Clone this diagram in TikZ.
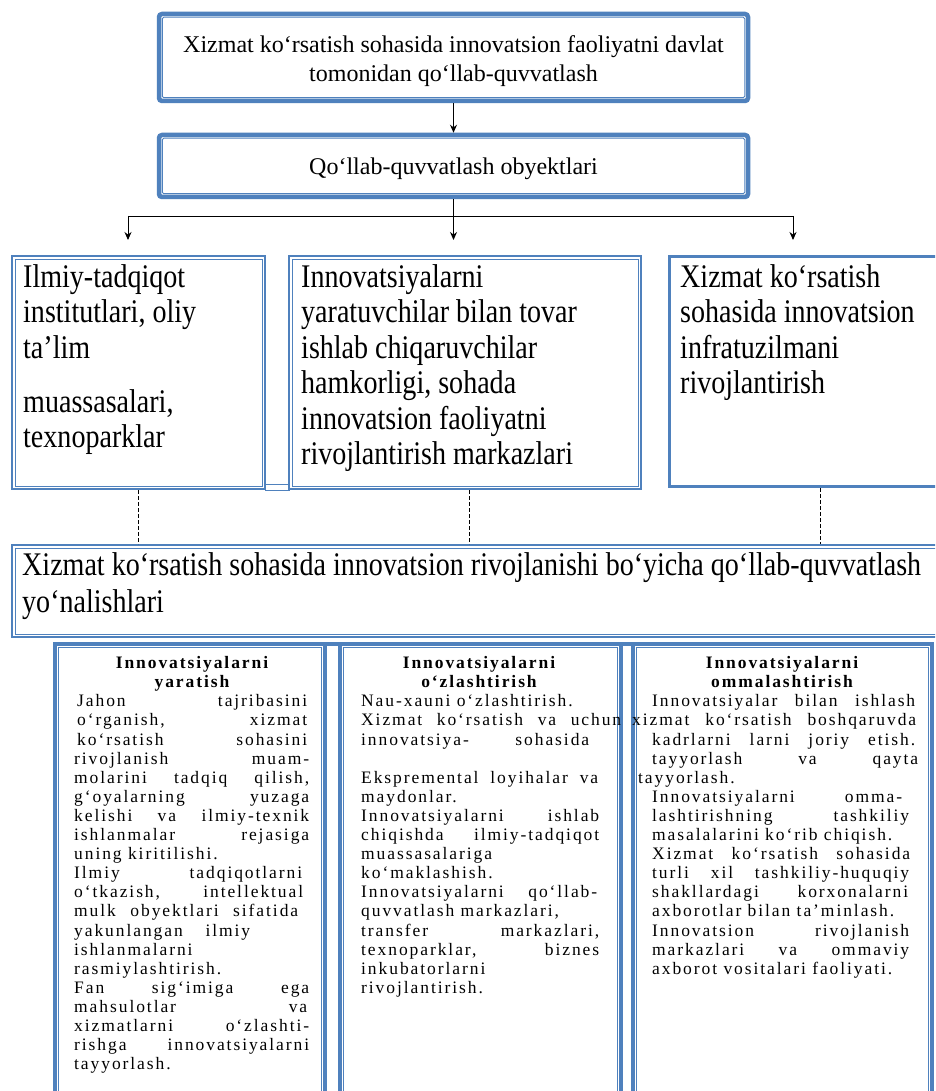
\documentclass[tikz,border=0pt]{standalone}
\usepackage{fontspec}
\usetikzlibrary{arrows.meta}
\setmainfont{Liberation Serif}
\newfontfamily\condfont[FakeStretch=0.85]{Liberation Serif}
\newfontfamily\bodyfont[LetterSpace=11]{Liberation Serif}
\definecolor{wb}{HTML}{4F81BD}
\tikzset{
 topframe/.style={draw=wb, line width=4.5pt, rounded corners=3pt, inner sep=0pt},
 midframe/.style={draw=wb, line width=2pt, inner sep=0pt},
 lowframe/.style={draw=wb, line width=4pt, inner sep=0pt},
 thinframe/.style={draw=wb, line width=1pt},
 arr/.style={draw=black, line width=0.9pt, -{Stealth[length=8pt,width=7pt]}},
 plainc/.style={draw=black, line width=0.9pt},
 dashc/.style={draw=black, line width=0.7pt, dash pattern=on 4pt off 2pt},
 toptext/.style={font=\fontsize{24}{28}\selectfont, inner sep=0pt, anchor=mid},
 bigtext/.style={font=\condfont\fontsize{33}{36}\selectfont, inner sep=0pt, anchor=mid west},
 bodyt/.style={font=\bodyfont\fontsize{17.5}{19}\selectfont, inner sep=0pt, anchor=mid west},
 titlet/.style={font=\bodyfont\bfseries\fontsize{17.5}{19}\selectfont, inner sep=0pt, anchor=mid},
}
\newcommand\bjust[5]{\node[bodyt] (#1) at (#2,{704.5+(#3-1)*19.1}) {\makebox[#4pt][s]{#5}};}
\newcommand\bleft[4]{\node[bodyt] (#1) at (#2,{704.5+(#3-1)*19.1}) {#4};}
\newcommand\inframe[2]{\draw[thinframe] ([xshift=#2pt,yshift=-#2pt]#1.north west) rectangle ([xshift=-#2pt,yshift=#2pt]#1.south east);}
\begin{document}
\begin{tikzpicture}[x=1pt,y=-1pt]
\useasboundingbox (0,0) rectangle (935,1091);
\fill[white] (0,0) rectangle (935,1091);
\clip (0,0) rectangle (935,1091);

% top boxes
\node[topframe, minimum width=589pt, minimum height=87pt] (t1) at (453.5,57.5) {};
\draw[thinframe, rounded corners=1.5pt] ([xshift=5.5pt,yshift=-5.5pt]t1.north west) rectangle ([xshift=-5.5pt,yshift=5.5pt]t1.south east);
\node[toptext] (t1a) at (453.5,50) {Xizmat ko‘rsatish sohasida innovatsion faoliyatni davlat};
\node[toptext] (t1b) at (453.5,79) {tomonidan qo‘llab-quvvatlash};

\node[topframe, minimum width=589pt, minimum height=62pt] (t2) at (453.5,166) {};
\draw[thinframe, rounded corners=1.5pt] ([xshift=5.5pt,yshift=-5.5pt]t2.north west) rectangle ([xshift=-5.5pt,yshift=5.5pt]t2.south east);
\node[toptext] (t2a) at (453.5,172) {Qo‘llab-quvvatlash obyektlari};

% arrows
\coordinate (jl) at (128,216);
\coordinate (jr) at (793,216);
\coordinate (al) at (128,240);
\coordinate (am) at (453.5,240);
\coordinate (ar) at (793,240);
\draw[arr] (t1.south) -- (t2.north);
\draw[arr] (t2.south) -- (am);
\draw[plainc] (jl) -- (jr);
\draw[arr] (jl) -- (al);
\draw[arr] (jr) -- (ar);

% middle boxes
\node[midframe, minimum width=253pt, minimum height=233pt] (m1) at (138.5,372.5) {};
\inframe{m1}{4}
\node[midframe, minimum width=352pt, minimum height=233pt] (m2) at (465,372.5) {};
\inframe{m2}{4}
\node[draw=wb, line width=1.5pt, inner sep=0pt, minimum width=276pt, minimum height=231pt] (m3) at (807,371.5) {};
\draw[wb, line width=0.8pt] ([xshift=2.5pt,yshift=-2.5pt]m3.north west) rectangle ([xshift=-2.5pt,yshift=2.5pt]m3.south east);
\draw[wb, line width=0.8pt] (265,484.5) rectangle (289,490.5);

\node[bigtext] (m1a) at (23,285) {Ilmiy-tadqiqot};
\node[bigtext] (m1b) at (23,320.5) {institutlari, oliy};
\node[bigtext] (m1c) at (23,356) {ta’lim};
\node[bigtext] (m1d) at (23,410) {muassasalari,};
\node[bigtext] (m1e) at (23,445) {texnoparklar};

\node[bigtext] (m2a) at (301,285) {Innovatsiyalarni};
\node[bigtext] (m2b) at (301,320.5) {yaratuvchilar bilan tovar};
\node[bigtext] (m2c) at (301,356) {ishlab chiqaruvchilar};
\node[bigtext] (m2d) at (301,391.5) {hamkorligi, sohada};
\node[bigtext] (m2e) at (301,427) {innovatsion faoliyatni};
\node[bigtext] (m2f) at (301,462.5) {rivojlantirish markazlari};

\node[bigtext] (m3a) at (680,285) {Xizmat ko‘rsatish};
\node[bigtext] (m3b) at (680,320.5) {sohasida innovatsion};
\node[bigtext] (m3c) at (680,356) {infratuzilmani};
\node[bigtext] (m3d) at (680,391.5) {rivojlantirish};

% large box
\node[midframe, minimum width=933pt, minimum height=92pt] (L) at (478.5,591) {};
\inframe{L}{4}
\node[bigtext] (La) at (22,573) {Xizmat ko‘rsatish sohasida innovatsion rivojlanishi bo‘yicha qo‘llab-quvvatlash};
\node[bigtext] (Lb) at (22,610) {yo‘nalishlari};

% dashed connectors
\draw[dashc] (m1.south) -- (m1.south |- L.north);
\draw[dashc] ([xshift=4pt]m2.south) -- ([xshift=4pt]m2.south |- L.north);
\draw[dashc] ([xshift=13pt]m3.south) -- ([xshift=13pt]m3.south |- L.north);

% bottom boxes
\node[lowframe, minimum width=270pt, minimum height=466.5pt] (A) at (190,876.75) {};
\inframe{A}{5.5}
\node[lowframe, minimum width=281pt, minimum height=466.5pt] (B) at (480.5,876.75) {};
\inframe{B}{5.5}
\node[lowframe, minimum width=299.5pt, minimum height=466.5pt] (C) at (782.25,876.75) {};
\inframe{C}{5.5}
\draw[wb, line width=4pt] ([yshift=-2pt]A.north west) -- ([yshift=-2pt]C.north east);

\node[titlet] (at1) at (192,666) {Innovatsiyalarni};
\node[titlet] (at2) at (192,685) {yaratish};
\node[titlet] (bt1) at (479,666) {Innovatsiyalarni};
\node[titlet] (bt2) at (479,685) {o‘zlashtirish};
\node[titlet] (ct1) at (782,666) {Innovatsiyalarni};
\node[titlet] (ct2) at (782,685) {ommalashtirish};

\bjust{a1}{77}{1}{230}{Jahon tajribasini}
\bjust{a2}{77}{2}{230}{o‘rganish, xizmat}
\bjust{a3}{77}{3}{230}{ko‘rsatish sohasini}
\bjust{a4}{74}{4}{235}{rivojlanish muam-}
\bjust{a5}{74}{5}{235}{molarini tadqiq qilish,}
\bjust{a6}{74}{6}{235}{g‘oyalarning yuzaga}
\bjust{a7}{74}{7}{235}{kelishi va ilmiy-texnik}
\bjust{a8}{74}{8}{235}{ishlanmalar rejasiga}
\bleft{a9}{74}{9}{uning kiritilishi.}
\bjust{a10}{74}{10}{228}{Ilmiy tadqiqotlarni}
\bjust{a11}{74}{11}{229}{o‘tkazish, intellektual}
\bjust{a12}{74}{12}{224}{mulk obyektlari sifatida}
\bjust{a13}{74}{13}{176}{yakunlangan ilmiy}
\bleft{a14}{74}{14}{ishlanmalarni}
\bleft{a15}{74}{15}{rasmiylashtirish.}
\bjust{a16}{74}{16}{235}{Fan sig‘imiga ega}
\bjust{a17}{74}{17}{233}{mahsulotlar va}
\bjust{a18}{74}{18}{235}{xizmatlarni o‘zlashti-}
\bjust{a19}{74}{19}{235}{rishga innovatsiyalarni}
\bleft{a20}{74}{20}{tayyorlash.}

\bleft{b1}{361}{1}{Nau-xauni o‘zlashtirish.}
\bjust{b2}{361}{2}{260}{Xizmat ko‘rsatish va uchun}
\bjust{b3}{361}{3}{228}{innovatsiya- sohasida}
\bjust{b5}{361}{5}{237}{Ekspremental loyihalar va}
\bleft{b6}{361}{6}{maydonlar.}
\bjust{b7}{361}{7}{238}{Innovatsiyalarni ishlab}
\bjust{b8}{361}{8}{238}{chiqishda ilmiy-tadqiqot}
\bleft{b9}{361}{9}{muassasalariga}
\bleft{b10}{361}{10}{ko‘maklashish.}
\bjust{b11}{361}{11}{236}{Innovatsiyalarni qo‘llab-}
\bleft{b12}{361}{12}{quvvatlash markazlari,}
\bjust{b13}{361}{13}{238}{transfer markazlari,}
\bjust{b14}{361}{14}{238}{texnoparklar, biznes}
\bleft{b15}{361}{15}{inkubatorlarni}
\bleft{b16}{361}{16}{rivojlantirish.}

\bjust{c1}{652}{1}{263}{Innovatsiyalar bilan ishlash}
\bjust{c2}{632}{2}{284}{xizmat ko‘rsatish boshqaruvda}
\bjust{c3}{652}{3}{263}{kadrlarni larni joriy etish.}
\bjust{c4}{652}{4}{266}{tayyorlash va qayta}
\bleft{c5}{638}{5}{tayyorlash.}
\bjust{c6}{652}{6}{250}{Innovatsiyalarni omma-}
\bjust{c7}{652}{7}{257}{lashtirishning tashkiliy}
\bleft{c8}{652}{8}{masalalarini ko‘rib chiqish.}
\bjust{c9}{652}{9}{258}{Xizmat ko‘rsatish sohasida}
\bjust{c10}{652}{10}{257}{turli xil tashkiliy-huquqiy}
\bjust{c11}{652}{11}{256}{shakllardagi korxonalarni}
\bleft{c12}{652}{12}{axborotlar bilan ta’minlash.}
\bjust{c13}{652}{13}{257}{Innovatsion rivojlanish}
\bjust{c14}{652}{14}{257}{markazlari va ommaviy}
\bleft{c15}{652}{15}{axborot vositalari faoliyati.}
\end{tikzpicture}
\end{document}
